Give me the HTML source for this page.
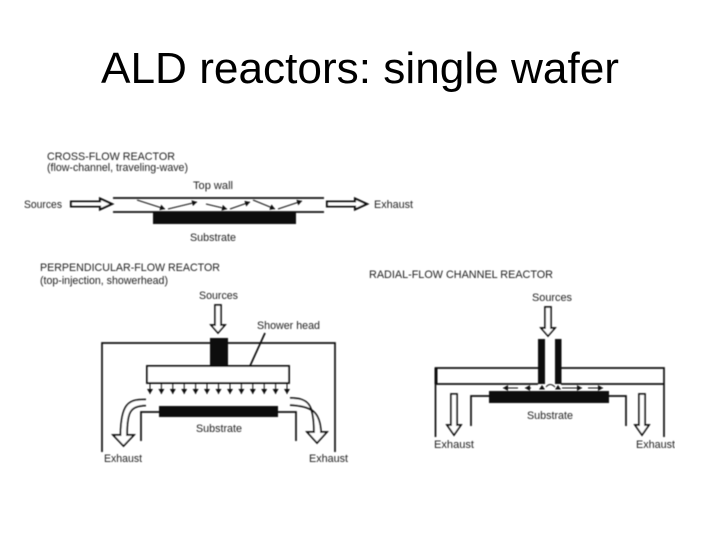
<!DOCTYPE html>
<html><head><meta charset="utf-8"><style>
html,body{margin:0;padding:0;background:#fff;width:720px;height:540px;overflow:hidden}
svg{display:block;position:absolute;left:0;top:0}
text{font-family:"Liberation Sans",sans-serif}
.t{font-size:11px;fill:#222}
.title{font-size:44px;fill:#000}
.l{stroke:#111;stroke-width:1.7;fill:none}
.o{stroke:#111;stroke-width:1.7;fill:#fff;stroke-linejoin:miter}
.h{stroke:#111;stroke-width:2.1;fill:#fff;stroke-linejoin:miter}
.b{fill:#111}
.a{stroke:#111;stroke-width:1;fill:none}
</style></head><body>
<svg width="720" height="540" viewBox="0 0 720 540">
<defs>
<marker id="m" markerUnits="userSpaceOnUse" markerWidth="6" markerHeight="6" refX="5" refY="3" orient="auto"><path d="M0 0L5 3L0 6Z" fill="#111"/></marker>
<filter id="s" x="0" y="0" width="100%" height="100%"><feGaussianBlur stdDeviation="0.4"/></filter>
</defs>
<text class="title" x="101" y="83" textLength="518" lengthAdjust="spacingAndGlyphs">ALD reactors: single wafer</text>
<g filter="url(#s)">
<!-- Cross-flow -->
<text class="t" x="47" y="160" textLength="128" lengthAdjust="spacingAndGlyphs">CROSS-FLOW REACTOR</text>
<text class="t" x="47" y="171" textLength="141" lengthAdjust="spacingAndGlyphs">(flow-channel, traveling-wave)</text>
<text class="t" x="193" y="189" textLength="40" lengthAdjust="spacingAndGlyphs">Top wall</text>
<text class="t" x="24" y="208" textLength="38" lengthAdjust="spacingAndGlyphs">Sources</text>
<text class="t" x="374" y="208" textLength="39" lengthAdjust="spacingAndGlyphs">Exhaust</text>
<text class="t" x="190" y="241" textLength="46" lengthAdjust="spacingAndGlyphs">Substrate</text>
<path class="l" d="M113 198H324M113 212H324"/>
<rect class="b" x="153" y="212" width="143" height="12"/>
<path class="h" d="M71 201.500H100V198.500L112 204L100 209.500V206.500H71Z"/>
<path class="h" d="M327 201.500H355V198.500L367 204L355 209.500V206.500H327Z"/>
<g class="a">
<path marker-end="url(#m)" d="M137 200L165 209"/>
<path marker-end="url(#m)" d="M168 209L197 202"/>
<path marker-end="url(#m)" d="M206 204L227 209"/>
<path marker-end="url(#m)" d="M230 209L250 202"/>
<path marker-end="url(#m)" d="M253 200L275 209"/>
<path marker-end="url(#m)" d="M278 209L302 201"/>
</g>
<!-- Perpendicular -->
<text class="t" x="40" y="271" textLength="180" lengthAdjust="spacingAndGlyphs">PERPENDICULAR-FLOW REACTOR</text>
<text class="t" x="40" y="284" textLength="128" lengthAdjust="spacingAndGlyphs">(top-injection, showerhead)</text>
<text class="t" x="199" y="299" textLength="39" lengthAdjust="spacingAndGlyphs">Sources</text>
<text class="t" x="257" y="329" textLength="63" lengthAdjust="spacingAndGlyphs">Shower head</text>
<text class="t" x="196" y="432" textLength="46" lengthAdjust="spacingAndGlyphs">Substrate</text>
<text class="t" x="104" y="462" textLength="38" lengthAdjust="spacingAndGlyphs">Exhaust</text>
<text class="t" x="309" y="462" textLength="39" lengthAdjust="spacingAndGlyphs">Exhaust</text>
<path class="l" d="M102 452V343H335V452"/>
<rect class="b" x="210" y="338" width="18" height="28"/>
<rect x="147" y="366" width="142" height="17" fill="#fff" stroke="#111" stroke-width="1.9"/>
<path class="l" d="M250 366L265 333"/>
<path class="o" d="M215 305H221V325H225L218 333L211 325H215Z"/>
<g class="a">
<path marker-end="url(#m)" d="M150 383V394"/><path marker-end="url(#m)" d="M161.400 383V394"/><path marker-end="url(#m)" d="M172.800 383V394"/><path marker-end="url(#m)" d="M184.200 383V394"/><path marker-end="url(#m)" d="M195.600 383V394"/><path marker-end="url(#m)" d="M207 383V394"/><path marker-end="url(#m)" d="M218.500 383V394"/><path marker-end="url(#m)" d="M230 383V394"/><path marker-end="url(#m)" d="M241.400 383V394"/><path marker-end="url(#m)" d="M252.800 383V394"/><path marker-end="url(#m)" d="M264.200 383V394"/><path marker-end="url(#m)" d="M275.600 383V394"/><path marker-end="url(#m)" d="M287 383V394"/>
</g>
<rect class="b" x="159" y="406" width="119" height="11"/>
<path class="l" d="M141 441V412H159M278 412H296V441"/>
<path class="o" stroke-width="1.4" d="M146 399.500C128 399 121 404 120.500 435H113L123.500 446L134 435H127C127 412 130 406 146 405.500"/>
<path class="o" stroke-width="1.4" d="M290 398C308 398 314 404 314 432H307L317 443L327 432H321C320 412 312 406 290 405"/>
<!-- Radial -->
<text class="t" x="369" y="278" textLength="184" lengthAdjust="spacingAndGlyphs">RADIAL-FLOW CHANNEL REACTOR</text>
<text class="t" x="532" y="301" textLength="40" lengthAdjust="spacingAndGlyphs">Sources</text>
<text class="t" x="527" y="419" textLength="46" lengthAdjust="spacingAndGlyphs">Substrate</text>
<text class="t" x="434" y="448" textLength="40" lengthAdjust="spacingAndGlyphs">Exhaust</text>
<text class="t" x="636" y="448" textLength="39" lengthAdjust="spacingAndGlyphs">Exhaust</text>
<rect class="b" x="538" y="339" width="7" height="45"/>
<rect class="b" x="555" y="339" width="6.500" height="45"/>
<path class="l" d="M538 368H435.500V437M435.500 384H538M561 368H664V437M561 384H664"/>
<path stroke="#111" stroke-width="3" fill="none" d="M436 368V384"/>
<path class="a" d="M546 387Q550 382 555 387"/>
<rect class="b" x="489" y="391" width="120" height="12"/>
<path class="l" d="M471 426V396H489M609 396H626V426"/>
<path class="o" d="M545 307H551V328H555L548 336L541 328H545Z"/>
<path class="o" d="M451 394H457V425H461L454 435L447 425H451Z"/>
<path class="o" d="M639 394H645V425H649L642 435L635 425H639Z"/>
<g class="a">
<path marker-end="url(#m)" d="M518 388H503"/>
<path marker-end="url(#m)" d="M531 388H525"/>
<path marker-end="url(#m)" d="M562 388H582"/>
<path marker-end="url(#m)" d="M588 388H603"/>
</g>
<path class="b" d="M539 389.500L542 385L545 389.500ZM555 389.500L558 385L561 389.500Z"/>
</g>
</svg>
</body></html>
